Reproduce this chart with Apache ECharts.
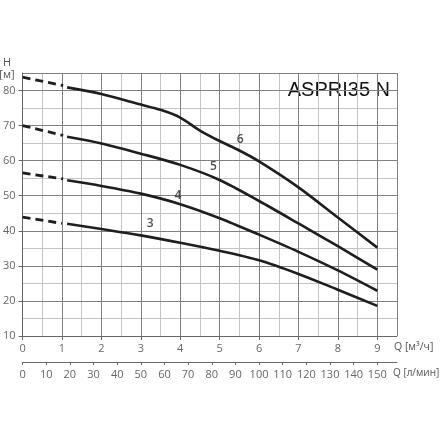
<!DOCTYPE html>
<html>
<head>
<meta charset="utf-8">
<script src="https://cdn.jsdelivr.net/npm/echarts@6/dist/echarts.min.js"></script>
<style>html,body{margin:0;padding:0;background:#fff}#c{width:440px;height:440px}</style>
</head>
<body>
<div id="c"></div>
<script>
// Q in m³/h, H in m
const curveNames = ['3', '4', '5', '6'];
const dashed3 = [[0, 43.9], [1.0, 42.1]];
const solid3 = [[1.13, 42.0], [2, 40.5], [3, 38.7], [4, 36.6], [5, 34.3], [6, 31.6], [7, 27.7], [8, 23.2], [9, 18.6]];
const dashed4 = [[0, 56.5], [1.03, 54.8]];
const solid4 = [[1.13, 54.4], [2, 52.8], [3, 50.6], [4, 47.6], [5, 43.6], [6, 38.9], [7, 34.0], [8, 28.7], [9, 22.9]];
const dashed5 = [[0, 70.0], [1.03, 67.2]];
const solid5 = [[1.13, 66.8], [2, 64.9], [3, 62.0], [4, 58.8], [5, 54.5], [6, 48.5], [7, 42.1], [8, 35.6], [9, 28.9]];
const dashed6 = [[0, 83.8], [1.03, 81.4]];
const solid6 = [[1.13, 80.9], [2, 79.0], [3, 76.0], [3.5, 74.5], [4, 72.3], [4.5, 68.6], [5, 65.6], [5.5, 62.9], [6, 59.8], [7, 52.4], [8, 43.8], [9, 35.2]];
const curveLabelPos = [[3.24, 42.0], [3.94, 50.1], [4.84, 58.4], [5.52, 66.1]];
const xTicks = [0, 1, 2, 3, 4, 5, 6, 7, 8, 9];
const yTicks = [10, 20, 30, 40, 50, 60, 70, 80];
const lpmTicks = [0, 10, 20, 30, 40, 50, 60, 70, 80, 90, 100, 110, 120, 130, 140, 150];
const title = 'ASPRI35 N';

const dashedSets = [dashed3, dashed4, dashed5, dashed6];
const solidSets = [solid3, solid4, solid5, solid6];

const chart = echarts.init(document.getElementById('c'), null, {renderer: 'canvas'});
const lineColor = '#1e1e1e';
const font = 'Open Sans';
const series = [];
dashedSets.forEach((d) => series.push({
  type: 'line', data: d, smooth: false, symbol: 'none', xAxisIndex: 0, yAxisIndex: 0,
  lineStyle: {color: lineColor, width: 2.8, type: [8, 5]}, z: 3, silent: true
}));
solidSets.forEach((d) => series.push({
  type: 'line', data: d, smooth: 0.3, symbol: 'none', xAxisIndex: 0, yAxisIndex: 0,
  lineStyle: {color: lineColor, width: 2.6}, z: 3, silent: true
}));
series.push({
  type: 'scatter', xAxisIndex: 0, yAxisIndex: 0, symbolSize: 0,
  data: curveLabelPos.map((p, i) => ({value: p, name: curveNames[i]})),
  label: {show: true, position: 'inside', formatter: '{b}', color: '#222', fontSize: 12, fontWeight: 600, fontFamily: font}
});

const xMax = 9.5;
const lpmMax = xMax * 1000 / 60;

chart.setOption({
  animation: false,
  grid: {left: 20, top: 73, width: 377, height: 263, containLabel: false},
  xAxis: [
    {type: 'value', min: 0, max: xMax, interval: 1, position: 'bottom', z: 1,
     axisLine: {show: true, onZero: false, lineStyle: {color: '#666', width: 1}},
     axisTick: {show: true, length: 4, lineStyle: {color: '#666'}},
     axisLabel: {showMaxLabel: false, margin: 7, color: '#666', fontSize: 11, fontFamily: font,
       formatter: v => xTicks.indexOf(v) >= 0 ? String(v) : ''},
     splitLine: {show: true, lineStyle: {color: '#808080', width: 1}}},
    {type: 'value', min: 0, max: xMax, interval: 0.5, position: 'top', z: 0,
     axisLine: {show: false}, axisTick: {show: false}, axisLabel: {show: false},
     splitLine: {show: true, lineStyle: {color: '#c4c4c4', width: 1}}},
    {type: 'value', min: 0, max: lpmMax, interval: 10, position: 'bottom', offset: 26, z: 1,
     axisLine: {show: true, onZero: false, lineStyle: {color: '#666', width: 1}},
     axisTick: {show: true, length: 3, lineStyle: {color: '#666'}},
     axisLabel: {showMaxLabel: false, margin: 7, color: '#666', fontSize: 11, fontFamily: font,
       formatter: v => lpmTicks.indexOf(v) >= 0 ? String(v) : ''},
     splitLine: {show: false}}
  ],
  yAxis: [
    {type: 'value', min: 10, max: 85, interval: 10, z: 1,
     axisLine: {show: true, onZero: false, lineStyle: {color: '#666', width: 1}},
     axisTick: {show: true, length: 4, lineStyle: {color: '#666'}},
     axisLabel: {showMaxLabel: false, margin: 7, color: '#666', fontSize: 11, fontFamily: font,
       formatter: v => yTicks.indexOf(v) >= 0 ? String(v) : ''},
     splitLine: {show: true, lineStyle: {color: '#808080', width: 1}}},
    {type: 'value', min: 10, max: 85, interval: 5, position: 'right', z: 0,
     axisLine: {show: false}, axisTick: {show: false}, axisLabel: {show: false},
     splitLine: {show: true, lineStyle: {color: '#c4c4c4', width: 1}}}
  ],
  series: series,
  graphic: [
    {type: 'text', x: 7, y: 63, style: {text: 'H', fill: '#555', font: '11px "Open Sans"', textAlign: 'center', textVerticalAlign: 'middle'}},
    {type: 'text', x: 7, y: 75, style: {text: '[м]', fill: '#555', font: '11px "Open Sans"', textAlign: 'center', textVerticalAlign: 'middle'}},
    {type: 'text', x: 394, y: 347, style: {text: 'Q [м³/ч]', fill: '#555', font: '10.5px "Open Sans"', textAlign: 'left', textVerticalAlign: 'middle'}},
    {type: 'text', x: 393, y: 373, style: {text: 'Q [л/мин]', fill: '#555', font: '10px "Open Sans"', textAlign: 'left', textVerticalAlign: 'middle'}},
    {type: 'text', x: 390, y: 90, style: {text: title, fill: '#111', font: '20px "Liberation Sans"', textAlign: 'right', textVerticalAlign: 'middle'}}
  ]
});
</script>
</body>
</html>
